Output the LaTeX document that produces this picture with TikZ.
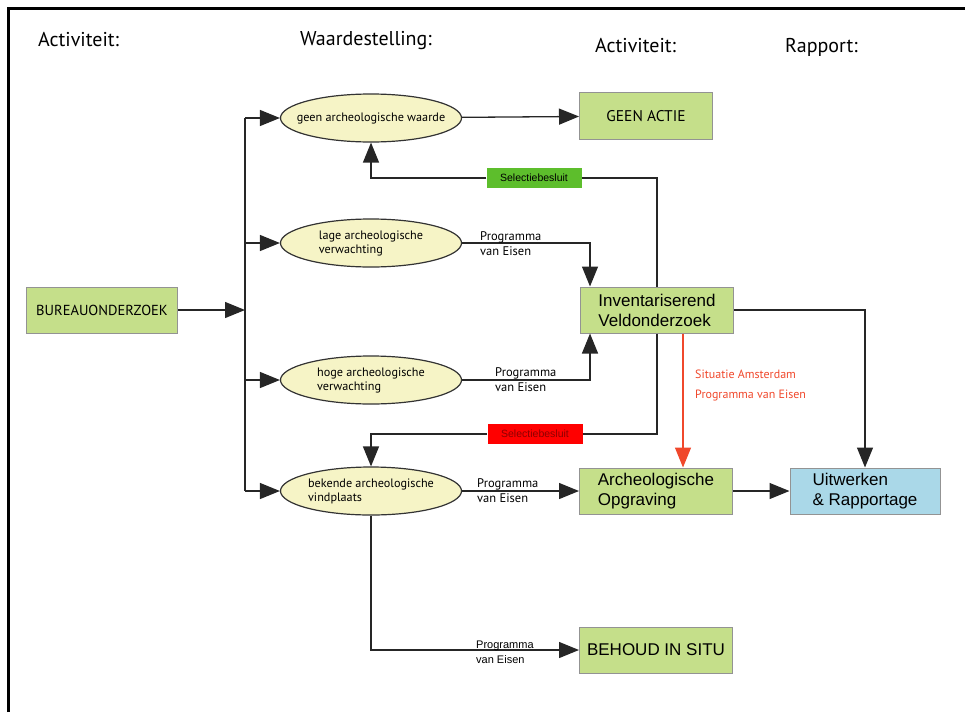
\documentclass[tikz,border=0pt]{standalone}
\usepackage{fontspec}
\setmainfont{Liberation Sans}
\newfontfamily\myriad{PT Sans}
\usetikzlibrary{arrows.meta}
\usetikzlibrary{shapes.geometric}
\usetikzlibrary{calc}
\definecolor{boxgreen}{HTML}{C5DF8A}
\definecolor{ovalyellow}{HTML}{F6F4C6}
\definecolor{selgreen}{HTML}{5DBE2C}
\definecolor{rapblue}{HTML}{AAD8E8}
\definecolor{amsred}{HTML}{F0482C}

\begin{document}
\begin{tikzpicture}[x=1pt, y=-1pt,
		kop/.style={anchor=base west, inner sep=0pt, font=\myriad\fontsize{20}{22}\selectfont},
		actbox/.style={draw=gray!85, fill=boxgreen, line width=1pt, inner sep=0pt, align=left, minimum width=153pt, minimum height=46pt, font=\fontsize{17}{20}\selectfont},
		rapbox/.style={actbox, fill=rapblue},
		waarde/.style={ellipse, draw=black!80, fill=ovalyellow, line width=1.2pt, minimum width=181pt, minimum height=48pt, inner xsep=-12pt, inner ysep=0pt, align=left, font=\myriad\fontsize{12.2}{14}\selectfont},
		besluit/.style={inner sep=0pt, minimum width=95pt, minimum height=20pt, font=\fontsize{10.5}{12}\selectfont},
		pve/.style={anchor=west, align=left, inner sep=0pt, font=\myriad\fontsize{12.5}{15}\selectfont},
		lijn/.style={draw=black!85, line width=1.3pt},
		flow/.style={lijn, -{Triangle[length=20pt, width=16pt]}}]
	\useasboundingbox (0,0) rectangle (965,712);
	\draw[line width=3pt] (8,712) -- (8,8) -- (965,8);

	% kopjes
	\node[kop] (kop1) at (38,46) {Activiteit:};
	\node[kop] (kop2) at (300,45) {Waardestelling:};
	\node[kop] (kop3) at (595,52) {Activiteit:};
	\node[kop] (kop4) at (785,52) {Rapport:};

	\node[actbox, minimum width=151pt, font=\myriad\fontsize{14.5}{16}\selectfont] (bur) at (102,310) {BUREAUONDERZOEK};

	\node[waarde] (geen) at (371,118) {geen archeologische waarde};
	\node[waarde] (lage) at (371,243) {lage archeologische\\verwachting};
	\node[waarde] (hoge) at (371,380) {hoge archeologische\\verwachting};
	\node[waarde] (bek) at (371,491) {bekende archeologische\\vindplaats};

	\node[actbox, minimum width=133pt, minimum height=47pt, font=\myriad\fontsize{15.5}{18}\selectfont] (actie) at (646,116) {GEEN ACTIE};
	\node[actbox] (inv) at (657,310) {Inventariserend\\Veldonderzoek};
	\node[actbox] (opg) at (656,491) {Archeologische\\Opgraving};
	\node[actbox] (situ) at (656,650) {BEHOUD IN SITU};
	\node[rapbox, minimum width=150pt] (uit) at (865,491) {Uitwerken\\\& Rapportage};

	\node[besluit, fill=selgreen] (selg) at (534,178) {Selectiebesluit};
	\node[besluit, fill=red, text=red!55!black] (selr) at (535,434) {Selectiebesluit};

	\coordinate (trunk) at (245,310);
	\coordinate (inleg) at (590,310);

	\draw[flow] (bur) -- (trunk);
	\draw[lijn] (trunk |- geen.west) -- (trunk |- bek.west);
	\foreach \w in {geen,lage,hoge,bek}
		\draw[flow] (trunk |- \w.west) -- (\w.west);

	\draw[flow] (geen) -- (actie);
	\draw[lijn] (inv.north) |- (selg.east);
	\draw[flow] (selg.west) -| (geen.south);
	\draw[flow] (lage.east) -| (inleg |- inv.north);
	\draw[flow] (hoge.east) -| (inleg |- inv.south);
	\draw[lijn] (inv.south) |- (selr.east);
	\draw[flow] (selr.west) -| (bek.north);
	\draw[flow, draw=amsred, fill=amsred] ([xshift=26pt]inv.south) -- ([xshift=26pt]inv.south |- opg.north);
	\draw[flow] (bek) -- (opg);
	\draw[flow] (opg) -- (uit);
	\draw[flow] (inv.east) -| (uit.north);
	\draw[flow] (bek.south) |- (situ.west);

	\node[pve] (pve1) at (480,244) {Programma\\van Eisen};
	\node[pve] (pve2) at (495,380) {Programma\\van Eisen};
	\node[pve] (pve3) at (477,491) {Programma\\van Eisen};
	\node[pve, font=\fontsize{11}{15}\selectfont] (pve4) at (476,652) {Programma\\van Eisen};
	\node[pve, text=amsred, font=\myriad\fontsize{12}{13}\selectfont] (ams1) at (695,374) {Situatie Amsterdam};
	\node[pve, text=amsred, font=\myriad\fontsize{12}{13}\selectfont] (ams2) at (695,396) {Programma van Eisen};
\end{tikzpicture}
\end{document}
